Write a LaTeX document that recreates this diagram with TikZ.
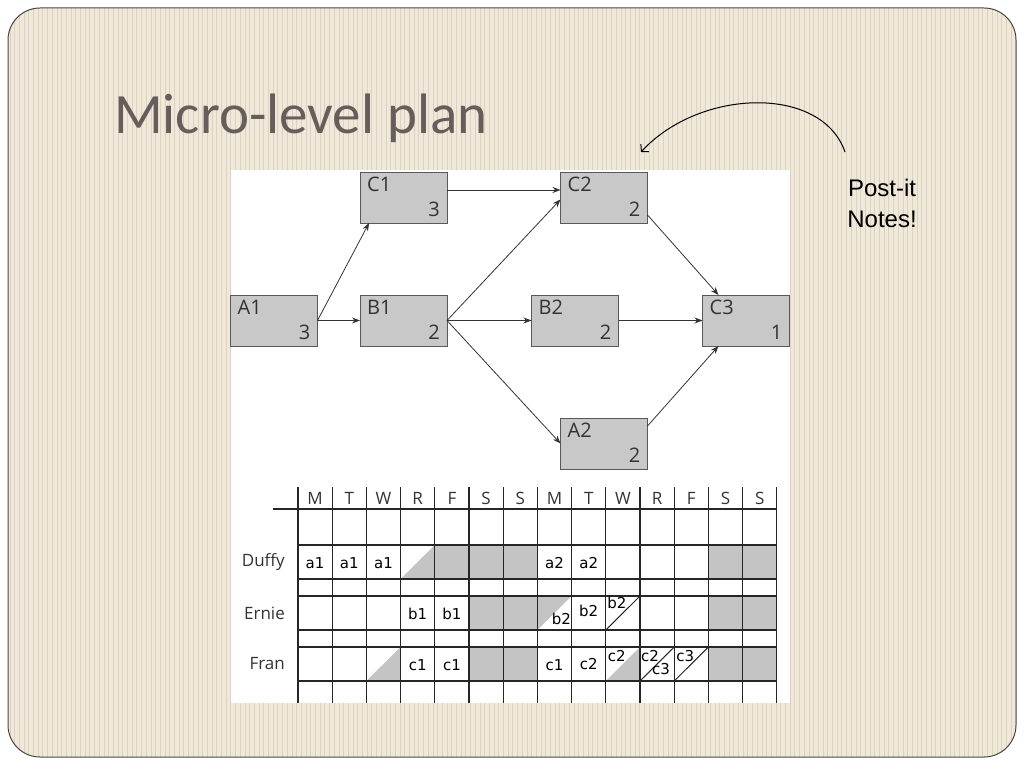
\documentclass[tikz,border=0pt]{standalone}
\usepackage{fontspec}
\setmainfont{Open Sans}
\newfontfamily\titlefont{Carlito}
\newfontfamily\arialfont{Liberation Sans}
\newfontfamily\handfont{DejaVu Sans}
\usetikzlibrary{arrows.meta,calc}
\definecolor{bgbeige}{RGB}{240,233,218}
\definecolor{stripe}{RGB}{219,210,194}
\definecolor{titlegray}{RGB}{102,94,90}
\definecolor{boxgray}{RGB}{200,200,200}
\definecolor{cellgray}{RGB}{196,196,196}
\definecolor{framegray}{RGB}{70,70,66}
\begin{document}
\begin{tikzpicture}[x=1pt,y=-1pt,
  taskbox/.style={draw=black!65, fill=boxgray, line width=1pt, minimum width=87pt, minimum height=51pt, inner sep=0pt, outer sep=0pt},
  lbl/.style={font=\fontsize{20}{20}\selectfont, inner sep=0pt, text=black!80},
  link/.style={draw=black!80, line width=0.8pt, -{Stealth[length=8pt,width=6pt]}},
  gridline/.style={draw=black!85, line width=1.1pt},
  hdr/.style={font=\fontsize{17}{17}\selectfont, inner sep=0pt, text=black!80},
  rowlbl/.style={font=\fontsize{17}{17}\selectfont, inner sep=0pt, text=black!80, anchor=east},
  hand/.style={font=\handfont\fontsize{15}{15}\selectfont, inner sep=0pt},
]
\useasboundingbox (0,0) rectangle (1024,768);
% background
\begin{scope}
  \clip[rounded corners=32pt] (8,8) rectangle (1016,757);
  \fill[bgbeige] (0,0) rectangle (1024,768);
  \foreach \x in {10,14.7,...,1016} \draw[stripe, line width=1pt] (\x,0) -- (\x,768);
\end{scope}
\draw[framegray, line width=1pt, rounded corners=32pt] (8,8) rectangle (1016,757);

% title
\node[anchor=base west, font=\titlefont\fontsize{57}{57}\selectfont, text=titlegray, inner sep=0pt] (title) at (114,133) {Micro-level plan};

% image area
\fill[white] (231,170) rectangle (790,703);

% task boxes
\node[taskbox] (c1) at (403.5,197.5) {};
\node[taskbox] (c2) at (604,197.5) {};
\node[taskbox] (a1) at (274,320.5) {};
\node[taskbox] (b1) at (403.5,320.5) {};
\node[taskbox] (b2) at (575,320.5) {};
\node[taskbox] (c3) at (746,320.5) {};
\node[taskbox] (a2) at (604,443.5) {};
\foreach \n/\t/\d in {c1/C1/3, c2/C2/2, a1/A1/3, b1/B1/2, b2/B2/2, c3/C3/1, a2/A2/2}{
  \node[lbl, anchor=base west] (\n-name) at ([xshift=7pt,yshift=-19.5pt]\n.north west) {\t};
  \node[lbl, anchor=base east] (\n-dur) at ([xshift=-7pt,yshift=7pt]\n.south east) {\d};
}

% links
\draw[link] (a1.east) -- (b1.west);
\draw[link] (a1.east) -- ([xshift=9pt]c1.south west);
\draw[link] ([yshift=7.5pt]c1.east) -- ([yshift=7.5pt]c2.west);
\draw[link] (b1.east) -- ([yshift=-2pt]c2.west);
\draw[link] (b1.east) -- (b2.west);
\draw[link] (b1.east) -- (a2.west);
\draw[link] ([yshift=8pt]c2.south east) -- ([xshift=16pt]c3.north west);
\draw[link] (b2.east) -- (c3.west);
\draw[link] ([yshift=17.5pt]a2.east) -- ([xshift=16pt]c3.south west);

% table gray fills
\foreach \i in {4,5,6,12,13} \fill[cellgray] ({298+34.2*\i},545) rectangle ({298+34.2*(\i+1)},579);
\fill[cellgray] ({298+34.2*3},579) -- ({298+34.2*4},545) -- ({298+34.2*4},579) -- cycle;
\foreach \i in {5,6,12,13} \fill[cellgray] ({298+34.2*\i},596) rectangle ({298+34.2*(\i+1)},630);
\fill[cellgray] ({298+34.2*7},596) -- ({298+34.2*8},596) -- ({298+34.2*7},630) -- cycle;
\foreach \i in {5,6,12,13} \fill[cellgray] ({298+34.2*\i},647) rectangle ({298+34.2*(\i+1)},681);
\fill[cellgray] ({298+34.2*2},681) -- ({298+34.2*3},647) -- ({298+34.2*3},681) -- cycle;
\fill[cellgray] ({298+34.2*9},681) -- ({298+34.2*10},647) -- ({298+34.2*10},681) -- cycle;

% table grid
\foreach \i in {0,...,14} \draw[gridline] ({298+34.2*\i},487) -- ({298+34.2*\i},703);
\draw[gridline] (273,509) -- (777,509);
\foreach \y in {545,579,596,630,647,681} \draw[gridline] (298,\y) -- (777,\y);
% diagonals
\draw[black!85, line width=1pt] ({298+34.2*9},630) -- ({298+34.2*10},596);
\draw[black!85, line width=1pt] ({298+34.2*10},681) -- ({298+34.2*11},647);
\draw[black!85, line width=1pt] ({298+34.2*11},681) -- ({298+34.2*12},647);

% headers
\foreach \d [count=\k from 0] in {M,T,W,R,F,S,S,M,T,W,R,F,S,S}
  \node[hdr] (h\k) at ({315.1+34.2*\k},498) {\d};

% row labels
\node[rowlbl] (duffy) at (285,562) {Duffy};
\node[rowlbl] (ernie) at (285,613) {Ernie};
\node[rowlbl] (fran) at (285,664) {Fran};

% cell entries
\foreach \i in {0,1,2} \node[hand] (d\i) at ({315.1+34.2*\i},563) {a1};
\foreach \i in {7,8} \node[hand] (d\i) at ({315.1+34.2*\i},563) {a2};
\foreach \i in {3,4} \node[hand] (e\i) at ({315.1+34.2*\i},614) {b1};
\node[hand] (e7) at ({298+34.2*7+24},619) {b2};
\node[hand] (e8) at ({315.1+34.2*8},611) {b2};
\node[hand] (e9) at ({298+34.2*9+11},603) {b2};
\foreach \i in {3,4,7} \node[hand] (f\i) at ({315.1+34.2*\i},665) {c1};
\node[hand] (f8) at ({315.1+34.2*8},664) {c2};
\node[hand] (f9) at ({298+34.2*9+11},656) {c2};
\node[hand] (f10a) at ({298+34.2*10+10},656) {c2};
\node[hand] (f10b) at ({298+34.2*10+21},669) {c3};
\node[hand] (f11) at ({298+34.2*11+11},656) {c3};

% post-it note
\node[anchor=base, font=\arialfont\fontsize{24}{24}\selectfont, inner sep=0pt] (post1) at (882,196) {Post-it};
\node[anchor=base, font=\arialfont\fontsize{24}{24}\selectfont, inner sep=0pt] (post2) at (882,227) {Notes!};
\coordinate (arcstart) at (845,152);
\coordinate (arcend) at (641,152);
\draw[black, line width=1pt, -{Straight Barb[length=5pt,width=11pt]}] (arcstart) .. controls (822,85) and (700,88) .. (arcend);
\end{tikzpicture}
\end{document}
